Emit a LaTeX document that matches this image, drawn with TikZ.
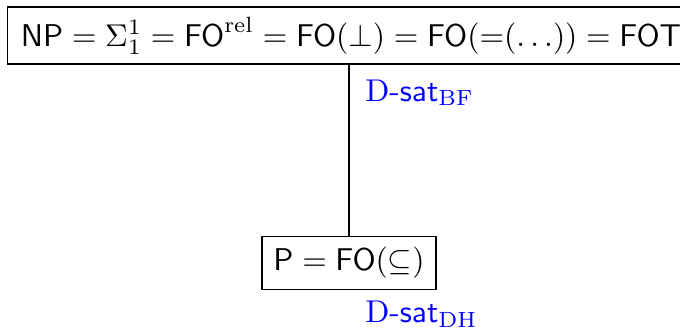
\documentclass[tikz,border=0pt]{standalone}
\usetikzlibrary{positioning}

\begin{document}
\begin{tikzpicture}[
    every node/.style={font=\normalsize},
    classbox/.style={draw, inner xsep=4.2pt, inner ysep=0pt},
    satlabel/.style={text=blue, inner sep=0pt}
  ]
  \useasboundingbox (0,0) rectangle (7.594,3.675);

    % Classes
    \node[classbox, minimum height=18.1pt] (np) at (3.92,3.278)
      {$\mathsf{NP} = \Sigma^1_1 = \mathsf{FO}^{\mathrm{rel}} = \mathsf{FO}(\perp) = \mathsf{FO}({=}(\ldots)) = \mathsf{FOT}$};
    \node[classbox, inner xsep=3.6pt, minimum height=16.7pt] (p) at (3.898,0.737)
      {$\mathsf{P} = \mathsf{FO}(\subseteq)$};

    % Inclusion
    \draw (np.south -| p.north) -- (p);

    % Problems
    \node[satlabel, below right=4.6pt and 5.0pt of p.north |- np.south] (bf) {D-\textsf{sat}$_{\mathrm{BF}}$};
    \node[satlabel, below right=3.3pt and 5.0pt of p.south] (dh) {D-\textsf{sat}$_{\mathrm{DH}}$};

  \end{tikzpicture}
\end{document}
